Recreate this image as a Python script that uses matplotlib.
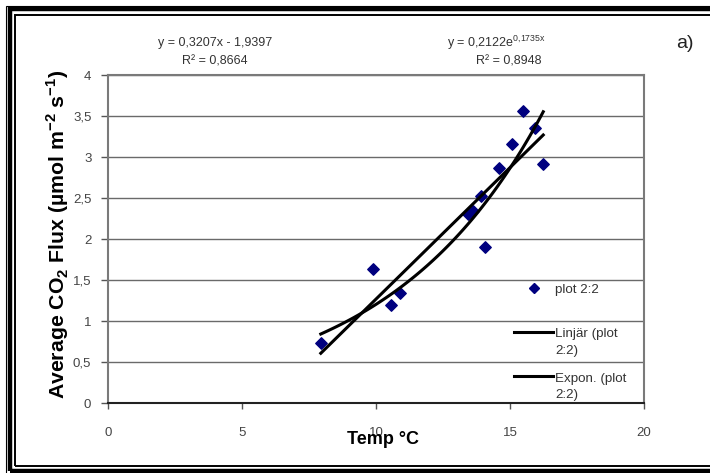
import matplotlib
matplotlib.use("Agg")
import matplotlib.pyplot as plt
from matplotlib.legend_handler import HandlerLine2D
from matplotlib.lines import Line2D
from matplotlib.patches import Rectangle
import numpy as np

# data
temp = [7.94, 9.89, 10.56, 10.90, 13.44, 13.61, 13.92, 14.07, 14.58, 15.07, 15.49, 15.93, 16.24]
flux = [0.73, 1.63, 1.19, 1.34, 2.30, 2.34, 2.53, 1.90, 2.86, 3.16, 3.56, 3.35, 2.92]

lin_slope, lin_icpt = 0.3207, -1.9397
exp_a, exp_b = 0.2122, 0.1735

eq_lin = ["y = 0,3207x - 1,9397", "R² = 0,8664"]
eq_exp = [r"y = 0,2122e$^{\mathregular{0{,}1735x}}$", "R² = 0,8948"]

xticks = [0, 5, 10, 15, 20]
yticks = [0, 0.5, 1, 1.5, 2, 2.5, 3, 3.5, 4]
yticklabels = ["0", "0,5", "1", "1,5", "2", "2,5", "3", "3,5", "4"]

plt.rcParams["font.family"] = ["Liberation Sans", "DejaVu Sans"]
plt.rcParams["mathtext.fontset"] = "custom"
plt.rcParams["mathtext.rm"] = "Liberation Sans"
plt.rcParams["mathtext.bf"] = "Liberation Sans:bold"


class FirstLineHandler(HandlerLine2D):
    # excel puts the legend key next to the first line of a wrapped label
    def create_artists(self, legend, orig_handle, xdescent, ydescent, width, height, fontsize, trans):
        arts = super().create_artists(legend, orig_handle, xdescent, ydescent, width, height, fontsize, trans)
        for a in arts:
            a.set_ydata(np.asarray(a.get_ydata()) + 7.5)
        return arts


W, H = 710, 473
fig = plt.figure(figsize=(W / 100, H / 100), dpi=100)
ax = fig.add_axes([108 / W, 1 - 403 / H, 536 / W, 328 / H])

# outer double frame
fig.patches.append(Rectangle((9.5 / W, 1 - 471 / H), 720 / W, 461.5 / H, transform=fig.transFigure,
                             fill=False, lw=3.2, ec="black"))
fig.patches.append(Rectangle((15 / W, 1 - 466 / H), 720 / W, 451 / H, transform=fig.transFigure,
                             fill=False, lw=1.4, ec="black"))
fig.patches.append(Rectangle((6 / W, 1 - 478 / H), 720 / W, 472 / H, transform=fig.transFigure,
                             fill=False, lw=0.8, ec="black"))

ax.set_xlim(0, 20)
ax.set_ylim(0, 4)
ax.set_yticks(yticks)
ax.set_yticklabels(yticklabels)
ax.set_xticks(xticks)
ax.yaxis.grid(True, color="#6a6a6a", lw=1.0)
ax.set_axisbelow(True)

for s in ["left", "top", "right"]:
    ax.spines[s].set_color("#7a7a7a")
    ax.spines[s].set_linewidth(1.5)
ax.spines["bottom"].set_color("#222222")
ax.spines["bottom"].set_linewidth(1.5)

ax.tick_params(axis="both", direction="out", width=1, color="#555555",
               labelcolor="#444444", labelsize=9.5)
ax.tick_params(axis="y", length=5, pad=7)
ax.tick_params(axis="x", length=4, pad=13)

ax.scatter(temp, flux, marker="D", s=34, color="#00007f", zorder=3)

xs = np.linspace(min(temp), max(temp), 100)
ax.plot(xs, lin_slope * xs + lin_icpt, color="black", lw=2.2, zorder=4)
ax.plot(xs, exp_a * np.exp(exp_b * xs), color="black", lw=2.2, zorder=4)

ax.set_xlabel("Temp °C", fontweight="bold", fontsize=13)
ax.xaxis.set_label_coords(0.513, -0.086)
ax.set_ylabel(r"Average CO$_\mathbf{2}$ Flux (µmol m$^\mathbf{-2}$ s$^\mathbf{-1}$)",
              fontweight="bold", fontsize=15.3)
ax.yaxis.set_label_coords(-0.069, 0.515)

handles = [
    Line2D([], [], ls="none", marker="D", ms=5, color="#00007f"),
    Line2D([], [], color="black", lw=2.2),
    Line2D([], [], color="black", lw=2.2),
]
leg = ax.legend(handles, ["plot 2:2\n ", "Linjär (plot\n2:2)", "Expon. (plot\n2:2)"],
                handler_map={Line2D: FirstLineHandler()},
                loc="upper left", bbox_to_anchor=(0.758, 0.363), frameon=False,
                fontsize=9.6, handlelength=2.9, handletextpad=0.15, borderpad=0,
                borderaxespad=0, labelspacing=1.15)
for t in leg.get_texts():
    t.set_color("#333333")
    t.set_linespacing(1.55)

fig.text(215 / W, 1 - 43 / H, eq_lin[0], ha="center", va="center", fontsize=9, color="#333333")
fig.text(215 / W, 1 - 62 / H, eq_lin[1], ha="center", va="center", fontsize=9, color="#333333")
fig.text(496 / W, 1 - 43 / H, eq_exp[0], ha="center", va="center", fontsize=9, color="#333333")
fig.text(509 / W, 1 - 62 / H, eq_exp[1], ha="center", va="center", fontsize=9, color="#333333")
fig.text(685 / W, 1 - 43 / H, "a)", ha="center", va="center", fontsize=14, color="#222222")

fig.savefig("out.png", dpi=100)
